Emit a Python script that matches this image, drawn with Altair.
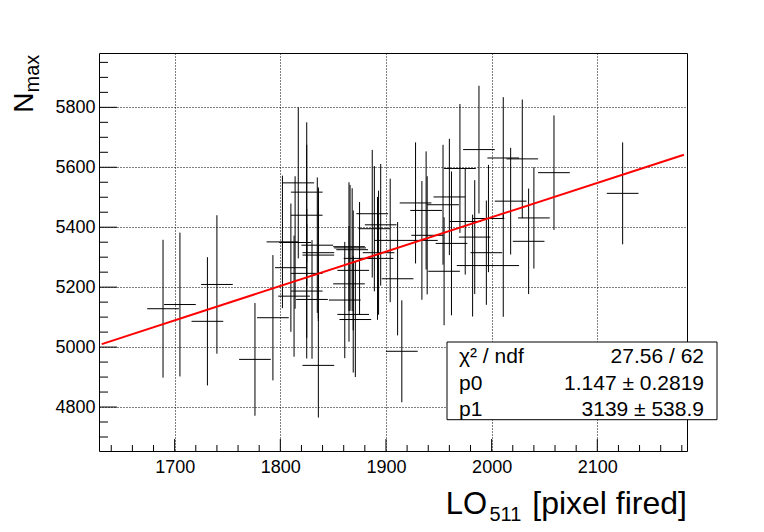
import altair as alt
import pandas as pd

FONT = "Liberation Sans"

# ---- data (points with x/y errors) ----
x_vals = [1689, 1705, 1740, 1731, 1776, 1793, 1802, 1817, 1825, 1825,
          1835, 1836, 1836, 1866, 1868, 1875, 1810, 1825, 1869, 1865,
          1825, 1813, 1830, 1861, 1869, 1871, 1836, 1915, 1887, 1895,
          1889, 1904, 1893, 1911, 1988, 2011, 2029, 2059, 2124, 2018,
          2040, 2035, 1970, 1960, 1928, 1954, 1938, 1975, 1997, 1939,
          1934, 1984, 1995, 2011, 1982, 1955, 1962, 1814, 1865, 1892]
x_err = [15] * 60
y_vals = [5128, 5142, 5209, 5086, 4959, 5098, 5351, 5548, 5517, 5440,
          5340, 5315, 5307, 5331, 5325, 5296, 5265, 5246, 5256, 5211,
          5187, 5170, 5159, 5157, 5109, 5092, 4939, 4986, 5445, 5408,
          5395, 5356, 5315, 5228, 5659, 5631, 5628, 5582, 5513, 5487,
          5431, 5353, 5596, 5501, 5481, 5475, 5456, 5419, 5429, 5373,
          5356, 5367, 5315, 5272, 5272, 5253, 5346, 5349, 5335, 5296]
y_err = [230, 240, 231, 214, 188, 209, 221, 252, 233, 235,
         226, 218, 220, 210, 205, 188, 214, 215, 200, 193,
         225, 202, 198, 194, 194, 192, 174, 170, 213, 203,
         209, 206, 207, 189, 213, 203, 198, 191, 170, 178,
         169, 176, 215, 194, 202, 200, 197, 177, 179, 197,
         198, 190, 174, 171, 170, 180, 240, 221, 215, 205]

# fit line end points
fit_x = [1631, 2182]
fit_y = [5010, 5642]

# axis ticks
x_major = [1700, 1800, 1900, 2000, 2100]
x_minor = [v for v in range(1640, 2185, 20) if v % 100 != 0]
y_major = [4800, 5000, 5200, 5400, 5600, 5800]
y_minor = [v for v in range(4700, 5980, 50) if v % 200 != 0]

# legend text
stat_labels = ["\u03c7\u00b2 / ndf", "p0", "p1"]
stat_values = ["27.56 / 62", "1.147 \u00b1 0.2819", "3139 \u00b1 538.9"]

W, H = 588, 398
XMIN, XMAX = 1628.4, 2184.9
YMIN, YMAX = 4653.3, 5981.3

df = pd.DataFrame({"x": x_vals, "ex": x_err, "y": y_vals, "ey": y_err})
df["xlo"] = df.x - df.ex
df["xhi"] = df.x + df.ex
df["ylo"] = df.y - df.ey
df["yhi"] = df.y + df.ey

xs = alt.Scale(domain=[XMIN, XMAX], nice=False, zero=False)
ys = alt.Scale(domain=[YMIN, YMAX], nice=False, zero=False)

ax_x = alt.Axis(values=x_major, grid=True, gridDash=[1, 2], gridColor="black",
                gridWidth=1, gridOpacity=1, ticks=False, domain=False,
                labelFontSize=18, labelFont=FONT, labelColor="black",
                labelPadding=7, title=None, labelFlush=False, labelOverlap=False,
                format="d")
ax_y = alt.Axis(values=y_major, grid=True, gridDash=[1, 2], gridColor="black",
                gridWidth=1, gridOpacity=1, ticks=False, domain=False,
                labelFontSize=18, labelFont=FONT, labelColor="black",
                labelPadding=4, title=None, labelFlush=False, labelOverlap=False,
                format="d")

X = lambda f: alt.X(f, scale=xs, axis=ax_x)
Y = lambda f: alt.Y(f, scale=ys, axis=ax_y)

base = alt.Chart(df)
hbars = base.mark_rule(color="black", strokeWidth=1).encode(
    x=X("xlo:Q"), x2="xhi:Q", y=Y("y:Q"))
vbars = base.mark_rule(color="black", strokeWidth=1).encode(
    x=X("x:Q"), y=Y("ylo:Q"), y2="yhi:Q")

fit = alt.Chart(pd.DataFrame({"x": fit_x, "y": fit_y})).mark_line(
    color="#ff0000", strokeWidth=2).encode(x=X("x:Q"), y=Y("y:Q"))

def xticks(vals, length):
    return alt.Chart(pd.DataFrame({"v": vals})).mark_rule(
        color="black", strokeWidth=1).encode(
        x=X("v:Q"), y=alt.value(H), y2=alt.value(H - length))

def yticks(vals, length):
    return alt.Chart(pd.DataFrame({"v": vals})).mark_rule(
        color="black", strokeWidth=1).encode(
        y=Y("v:Q"), x=alt.value(0), x2=alt.value(length))

one = pd.DataFrame({"a": [0]})

def label(txt, x, y, size, align="left", angle=0):
    kw = dict(font=FONT, color="black", fontSize=size, align=align,
              baseline="alphabetic")
    if angle:
        kw["angle"] = angle
    return alt.Chart(pd.DataFrame({"t": [txt]})).mark_text(**kw).encode(
        text="t:N", x=alt.value(x), y=alt.value(y))

legend_box = alt.Chart(one).mark_rect(
    fill="white", stroke="black", strokeWidth=1).encode(
    x=alt.value(348), x2=alt.value(618), y=alt.value(289), y2=alt.value(366.7))

rows_y = [310, 336.7, 362.7]
legend_texts = []
for lab, val, yy in zip(stat_labels, stat_values, rows_y):
    legend_texts.append(label(lab, 360, yy, 21, "left"))
    legend_texts.append(label(val, 605, yy, 21, "right"))

titles = [
    label("LO", 388, 460.5, 31, "right"),
    label("511", 390.5, 467.5, 20, "left"),
    label("[pixel fired]", 588, 460.5, 32, "right"),
    label("N", -66, 59.7, 28, "left", 270),
    label("max", -60.5, 39.5, 20, "left", 270),
]

chart = alt.layer(
    hbars, vbars, fit,
    xticks(x_major, 12), xticks(x_minor, 6),
    yticks(y_major, 18), yticks(y_minor, 9),
    legend_box, *legend_texts, *titles
).properties(
    width=W, height=H,
    padding={"left": 91, "top": 45, "right": 69, "bottom": 73},
    autosize=alt.AutoSizeParams(type="none"),
).configure_view(stroke="black", strokeWidth=1)

chart.save("out.html", embed_options={"renderer": "svg", "actions": False})
